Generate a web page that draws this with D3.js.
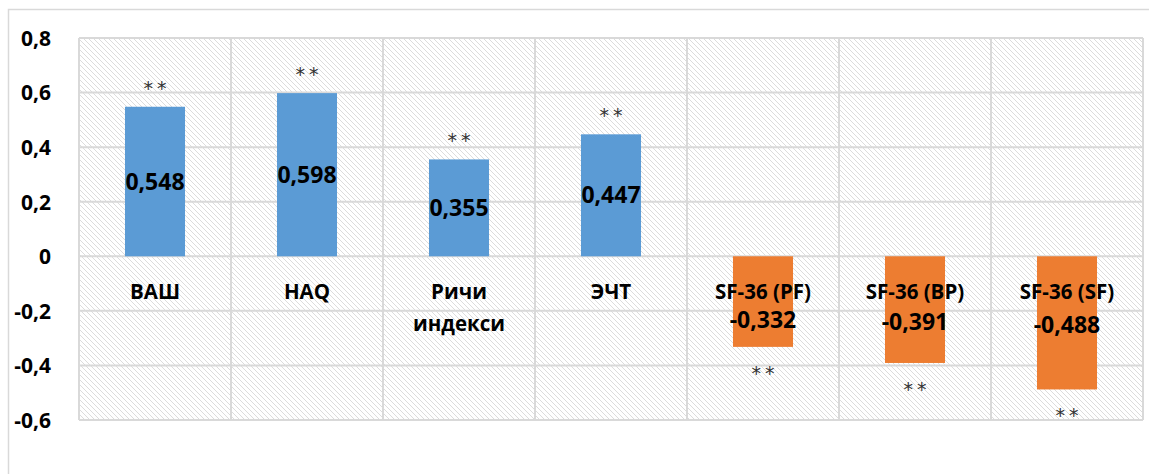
<!DOCTYPE html>
<html>
<head>
<meta charset="utf-8">
<script src="https://cdn.jsdelivr.net/npm/d3@7"></script>
<style>
  body { margin: 0; background: #fff; }
  svg { display: block; }
  .tick text { font-family: "Open Sans", sans-serif; font-weight: 700; font-size: 21px; fill: #000; }
</style>
</head>
<body>
<svg class="chart"></svg>
<script>
// DATA
const categories = ['ВАШ', 'HAQ', 'Ричи индекси', 'ЭЧТ', 'SF-36 (PF)', 'SF-36 (BP)', 'SF-36 (SF)'];
const labelLines = [['ВАШ'], ['HAQ'], ['Ричи', 'индекси'], ['ЭЧТ'], ['SF-36 (PF)'], ['SF-36 (BP)'], ['SF-36 (SF)']];
const values = [0.548, 0.598, 0.355, 0.447, -0.332, -0.391, -0.488];
const valueLabels = ['0,548', '0,598', '0,355', '0,447', '-0,332', '-0,391', '-0,488'];
const marks = ['**', '**', '**', '**', '**', '**', '**'];
const yTicks = [0.8, 0.6, 0.4, 0.2, 0, -0.2, -0.4, -0.6];

const size = {w: 1149, h: 474};
const margin = {top: 38, left: 79, bottom: 54, right: 6};

const svg = d3.select('svg.chart')
    .attr('width', size.w)
    .attr('height', size.h);

// hatch pattern
const defs = svg.append('defs');
const pat = defs.append('pattern')
    .attr('id', 'hatch')
    .attr('patternUnits', 'userSpaceOnUse')
    .attr('width', 5)
    .attr('height', 5);
pat.append('rect').attr('width', 5).attr('height', 5).attr('fill', '#fff');
pat.append('path')
    .attr('d', 'M-1,-1 L6,6 M-1,4 L1,6 M4,-1 L6,1')
    .attr('stroke', '#dcdcdc')
    .attr('stroke-width', 1);

// outer chart border
svg.append('rect')
    .attr('x', 8.5).attr('y', 9.5)
    .attr('width', size.w + 10).attr('height', size.h + 10)
    .attr('fill', 'none')
    .attr('stroke', '#d9d9d9')
    .attr('stroke-width', 1.5);

const x = d3.scaleBand()
    .domain(categories)
    .range([margin.left, size.w - margin.right])
    .padding(0);

const y = d3.scaleLinear()
    .domain([-0.6, 0.8])
    .range([size.h - margin.bottom, margin.top]);

const g = svg.append('g');

// plot background
g.append('rect')
    .attr('x', margin.left)
    .attr('y', y(0.8))
    .attr('width', x.range()[1] - margin.left)
    .attr('height', y(-0.6) - y(0.8))
    .attr('fill', 'url(#hatch)');

// gridlines
g.selectAll('line.hgrid')
    .data(yTicks)
    .enter()
    .append('line')
    .attr('class', 'hgrid')
    .attr('x1', margin.left)
    .attr('x2', x.range()[1])
    .attr('y1', d => y(d))
    .attr('y2', d => y(d))
    .attr('stroke', '#d9d9d9')
    .attr('stroke-width', 2);

const bounds = categories.map(c => x(c)).concat([x.range()[1]]);
g.selectAll('line.vgrid')
    .data(bounds)
    .enter()
    .append('line')
    .attr('class', 'vgrid')
    .attr('x1', d => d)
    .attr('x2', d => d)
    .attr('y1', y(0.8))
    .attr('y2', y(-0.6))
    .attr('stroke', '#d9d9d9')
    .attr('stroke-width', 2);

// y axis
const yAxis = svg.append('g')
    .attr('transform', `translate(${margin.left - 25}, 0)`)
    .call(d3.axisLeft(y).tickValues(yTicks).tickSize(0)
        .tickFormat(d => d === 0 ? '0' : d3.format('.1f')(d).replace('.', ',').replace('−', '-')));
yAxis.select('.domain').remove();
yAxis.selectAll('text').attr('dy', '0.35em');

// bars
const barW = x.bandwidth() * 0.395;
const bars = [];
categories.forEach((c, i) => bars.push({c: c, v: values[i], lab: valueLabels[i], mark: marks[i], lines: labelLines[i]}));

g.selectAll('rect.bar')
    .data(bars)
    .enter()
    .append('rect')
    .attr('class', 'bar')
    .attr('x', d => x(d.c) + (x.bandwidth() - barW) / 2)
    .attr('y', d => y(Math.max(0, d.v)))
    .attr('width', barW)
    .attr('height', d => Math.abs(y(d.v) - y(0)))
    .attr('fill', d => d.v >= 0 ? '#5b9bd5' : '#ed7d31');

// category labels
const cat = g.selectAll('text.cat')
    .data(bars)
    .enter()
    .append('text')
    .attr('class', 'cat')
    .attr('text-anchor', 'middle')
    .attr('font-family', '"Open Sans", sans-serif')
    .attr('font-weight', 700)
    .attr('font-size', 20.5)
    .attr('fill', '#000');
cat.selectAll('tspan')
    .data(d => d.lines.map(l => ({l: l, c: d.c})))
    .enter()
    .append('tspan')
    .attr('x', d => x(d.c) + x.bandwidth() / 2)
    .attr('y', (d, i) => y(0) + 43 + i * 32)
    .text(d => d.l);

// value labels
g.selectAll('text.val')
    .data(bars)
    .enter()
    .append('text')
    .attr('class', 'val')
    .attr('text-anchor', 'middle')
    .attr('font-family', '"Open Sans", sans-serif')
    .attr('font-weight', 700)
    .attr('font-size', 23)
    .attr('fill', '#000')
    .attr('x', d => x(d.c) + x.bandwidth() / 2)
    .attr('y', d => d.v >= 0 ? y(d.v / 2) + 8 : y(0) + 72 + (Math.abs(d.v) - 0.33) * 30)
    .text(d => d.lab);

// significance marks
g.selectAll('text.mark')
    .data(bars)
    .enter()
    .append('text')
    .attr('class', 'mark')
    .attr('text-anchor', 'middle')
    .attr('font-family', '"DejaVu Sans", sans-serif')
    .attr('font-size', 19)
    .attr('letter-spacing', 4)
    .attr('fill', '#333')
    .attr('x', d => x(d.c) + x.bandwidth() / 2 + 2)
    .attr('y', d => d.v >= 0 ? y(d.v) - 12 : y(d.v) + 33)
    .text(d => d.mark);
</script>
</body>
</html>
